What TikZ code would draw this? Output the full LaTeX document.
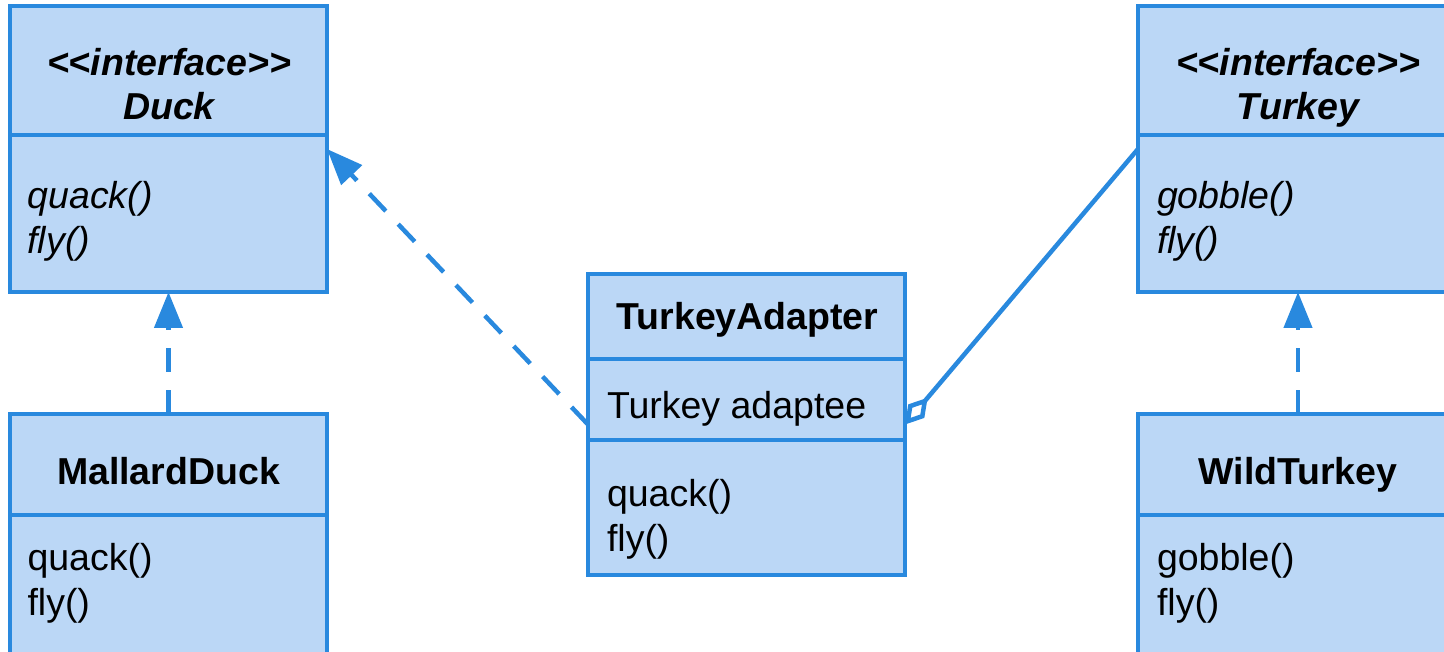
\documentclass[tikz,border=0pt]{standalone}
\usepackage{fontspec}
\setmainfont{Liberation Sans}
\usetikzlibrary{arrows.meta}
\definecolor{umlfill}{RGB}{187,215,246}
\definecolor{umlline}{RGB}{41,137,222}
\begin{document}
\begin{tikzpicture}[x=1pt,y=-1pt,
  classbox/.style={draw=umlline, fill=umlfill, line width=3.5pt, rectangle, inner sep=0pt, outer sep=0pt},
  umltxt/.style={inner sep=0pt, outer sep=0pt, text=black},
  classname/.style={umltxt, anchor=base, font=\fontsize{37.5}{45}\selectfont\bfseries},
  iclassname/.style={umltxt, anchor=base, font=\fontsize{37.5}{45}\selectfont\bfseries\itshape},
  umember/.style={umltxt, anchor=base west, font=\fontsize{37.5}{45}\selectfont},
  imember/.style={umltxt, anchor=base west, font=\fontsize{37.5}{45}\selectfont\itshape},
  divider/.style={draw=umlline, line width=3.5pt},
  conn/.style={draw=umlline, line width=4.5pt},
  realize/.style={conn, dash pattern=on 24pt off 18pt, -{Triangle[length=36pt,width=28pt]}},
  aggreg/.style={conn, {Diamond[fill=white,length=35pt,width=21pt]}-},
]
\useasboundingbox (0,0) rectangle (1444,652);
\clip (0,0) rectangle (1444,652);

% boxes
\node[classbox, minimum width=317pt, minimum height=286pt] (duck) at (168.5,149) {};
\node[classbox, minimum width=320pt, minimum height=286pt] (turkey) at (1298,149) {};
\node[classbox, minimum width=317pt, minimum height=286pt] (mallard) at (168.5,557) {};
\node[classbox, minimum width=320pt, minimum height=286pt] (wild) at (1298,557) {};
\node[classbox, minimum width=317pt, minimum height=301pt] (adapter) at (746.5,424.5) {};

% dividers
\draw[divider] ([yshift=-129pt]duck.north west) -- ([yshift=-129pt]duck.north east);
\draw[divider] ([yshift=-129pt]turkey.north west) -- ([yshift=-129pt]turkey.north east);
\draw[divider] ([yshift=-101pt]mallard.north west) -- ([yshift=-101pt]mallard.north east);
\draw[divider] ([yshift=-101pt]wild.north west) -- ([yshift=-101pt]wild.north east);
\draw[divider] ([yshift=-85pt]adapter.north west) -- ([yshift=-85pt]adapter.north east);
\draw[divider] ([yshift=-166pt]adapter.north west) -- ([yshift=-166pt]adapter.north east);

% texts
\node[iclassname] (duckst) at (169,75.5) {<\kern0pt<interface>\kern0pt>};
\node[iclassname] (duckname) at (169,120) {Duck};
\node[imember] (duckm1) at (27.5,208.5) {quack()};
\node[imember] (duckm2) at (27.5,253.5) {fly()};

\node[iclassname] (turkeyst) at (1298,75.5) {<\kern0pt<interface>\kern0pt>};
\node[iclassname] (turkeyname) at (1298,120) {Turkey};
\node[imember] (turkeym1) at (1157,208.5) {gobble()};
\node[imember] (turkeym2) at (1157,253.5) {fly()};

\node[classname] (mallardname) at (168.5,484) {MallardDuck};
\node[umember] (mallardm1) at (27.5,570) {quack()};
\node[umember] (mallardm2) at (27.5,615) {fly()};

\node[classname] (wildname) at (1298,484) {WildTurkey};
\node[umember] (wildm1) at (1157,570) {gobble()};
\node[umember] (wildm2) at (1157,615) {fly()};

\node[classname] (adaptername) at (747.5,330) {TurkeyAdapter};
\node[umember] (adaptera1) at (607,418.5) {Turkey adaptee};
\node[umember] (adapterm1) at (607,506.5) {quack()};
\node[umember] (adapterm2) at (607,551) {fly()};

% connectors
\draw[realize] (mallard.north) -- (duck.south);
\draw[realize] (wild.north) -- (turkey.south);
\draw[realize] (adapter.west) -- (duck.east);
\draw[aggreg] (adapter.east) -- (turkey.west);
\end{tikzpicture}
\end{document}
